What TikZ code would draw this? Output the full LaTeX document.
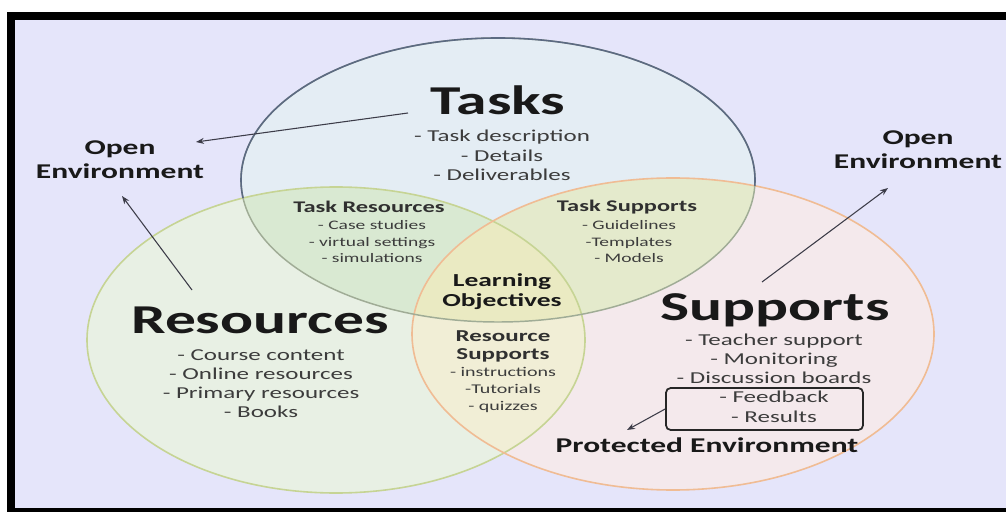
\documentclass[tikz,border=0pt]{standalone}
\usepackage{fontspec}
\setmainfont{Carlito}[FakeStretch=1.5]
\usetikzlibrary{arrows.meta}
\definecolor{bgc}{RGB}{229,229,250}
\definecolor{ct}{RGB}{228,237,244}
\definecolor{cr}{RGB}{232,240,228}
\definecolor{cs}{RGB}{244,233,236}
\definecolor{ctr}{RGB}{217,233,210}
\definecolor{cts}{RGB}{228,234,204}
\definecolor{crs}{RGB}{241,238,214}
\definecolor{ctrs}{RGB}{234,234,194}
\definecolor{bt}{RGB}{92,106,130}
\definecolor{btl}{RGB}{160,172,150}
\definecolor{br}{RGB}{198,212,148}
\definecolor{bs}{RGB}{240,188,148}
\definecolor{txd}{RGB}{25,25,25}
\definecolor{txm}{RGB}{60,60,60}
\definecolor{arc}{RGB}{60,60,72}
\newcommand\myfs[2]{\fontsize{#1}{#2}\selectfont}
\tikzset{
  tel/.style={x radius=192.75pt, y radius=106.5pt},
  rel/.style={x radius=186.75pt, y radius=114.75pt},
  sel/.style={x radius=195.75pt, y radius=117pt},
  title/.style={inner sep=0pt, anchor=base, text=txd, font=\myfs{30.75}{36}\bfseries},
  list/.style={inner sep=0pt, align=center, text=txm, font=\myfs{12.5}{14.4}},
  envtext/.style={inner sep=0pt, align=center, text=txd, font=\myfs{15.75}{18}\bfseries},
  lenshead/.style={inner sep=0pt, align=center, text=txd!90, font=\myfs{12.2}{13.5}\bfseries},
  lensitem/.style={inner sep=0pt, align=center, text=txm, font=\myfs{9.75}{12.4}},
  arr/.style={draw=arc, line width=0.8pt, -{Stealth[length=6pt,width=4.5pt]}},
}
\begin{document}
\begin{tikzpicture}[x=0.75pt,y=-0.75pt]
\useasboundingbox (0,0) rectangle (1006,513);
\fill[white] (0,0) rectangle (1006,513);
\fill[black] (7,12) rectangle (1006,512);
\fill[bgc] (15,20) rectangle (1006,508);
\coordinate (tc) at (498,180);
\coordinate (rc) at (336,340);
\coordinate (sc) at (673,334);
% fills
\fill[ct] (tc) ellipse [tel];
\fill[cr] (rc) ellipse [rel];
\fill[cs] (sc) ellipse [sel];
\begin{scope}
  \clip (tc) ellipse [tel];
  \fill[ctr] (rc) ellipse [rel];
  \fill[cts] (sc) ellipse [sel];
\end{scope}
\begin{scope}
  \clip (rc) ellipse [rel];
  \fill[crs] (sc) ellipse [sel];
\end{scope}
\begin{scope}
  \clip (tc) ellipse [tel];
  \clip (rc) ellipse [rel];
  \fill[ctrs] (sc) ellipse [sel];
\end{scope}
% borders
\draw[br, line width=1.2pt] (rc) ellipse [rel];
\draw[bs, line width=1.2pt] (sc) ellipse [sel];
\draw[btl, line width=1.1pt] (tc) ellipse [tel];
\begin{scope}[even odd rule]
  \clip (0,0) rectangle (1006,513) (rc) ellipse [rel];
  \clip (0,0) rectangle (1006,513) (sc) ellipse [sel];
  \draw[bt, line width=1.2pt] (tc) ellipse [tel];
\end{scope}
% titles
\node[title] (tasks) at (498,115) {Tasks};
\node[title] (resources) at (260,333) {Resources};
\node[title] (supports) at (775,320) {Supports};
% lists
\node[list, font=\myfs{12.5}{14.6}] (tlist) at (502,155.5) {- Task description\\- Details\\- Deliverables};
\node[list] (rlist) at (261,383.5) {- Course content\\- Online resources\\- Primary resources\\- Books};
\node[draw=black!85, line width=1.3pt, rounded corners=3.5pt, minimum width=147.75pt, minimum height=31.5pt, inner sep=0pt] (fbox) at (764.5,409) {};
\node[list] (slist) at (774,378) {- Teacher support\\- Monitoring\\- Discussion boards\\- Feedback\\- Results};
% lens texts
\node[lenshead] (trh) at (369,207) {Task Resources};
\node[lensitem] (tri) at (372,242) {- Case studies\\- virtual settings\\- simulations};
\node[lenshead] (tsh) at (627,207) {Task Supports};
\node[lensitem] (tsi) at (629,242) {- Guidelines\\-Templates\\- Models};
\node[inner sep=0pt, align=center, text=txd, font=\myfs{13.75}{15}\bfseries] (lo) at (502,292) {Learning\\Objectives};
\node[lenshead, font=\myfs{12.5}{13.5}\bfseries] (rsh) at (503,346) {Resource\\Supports};
\node[lensitem, font=\myfs{10}{12.6}] (rsi) at (503,390) {- instructions\\-Tutorials\\- quizzes};
% environments
\node[envtext] (oel) at (120,160) {Open\\Environment};
\node[envtext] (oer) at (918,150) {Open\\Environment};
\node[envtext, inner sep=0pt] (pe) at (707,445) {Protected Environment};
% arrows
\coordinate (a1s) at (408,113);
\coordinate (a1e) at (196,142);
\coordinate (a2s) at (192,290);
\coordinate (a2e) at (122,196);
\coordinate (a3s) at (762,282);
\coordinate (a3e) at (888,188);
\coordinate (a4e) at (627,430);
\draw[arr] (a1s) -- (a1e);
\draw[arr] (a2s) -- (a2e);
\draw[arr] (a3s) -- (a3e);
\draw[arr] (fbox.west) -- (a4e);
\end{tikzpicture}
\end{document}
